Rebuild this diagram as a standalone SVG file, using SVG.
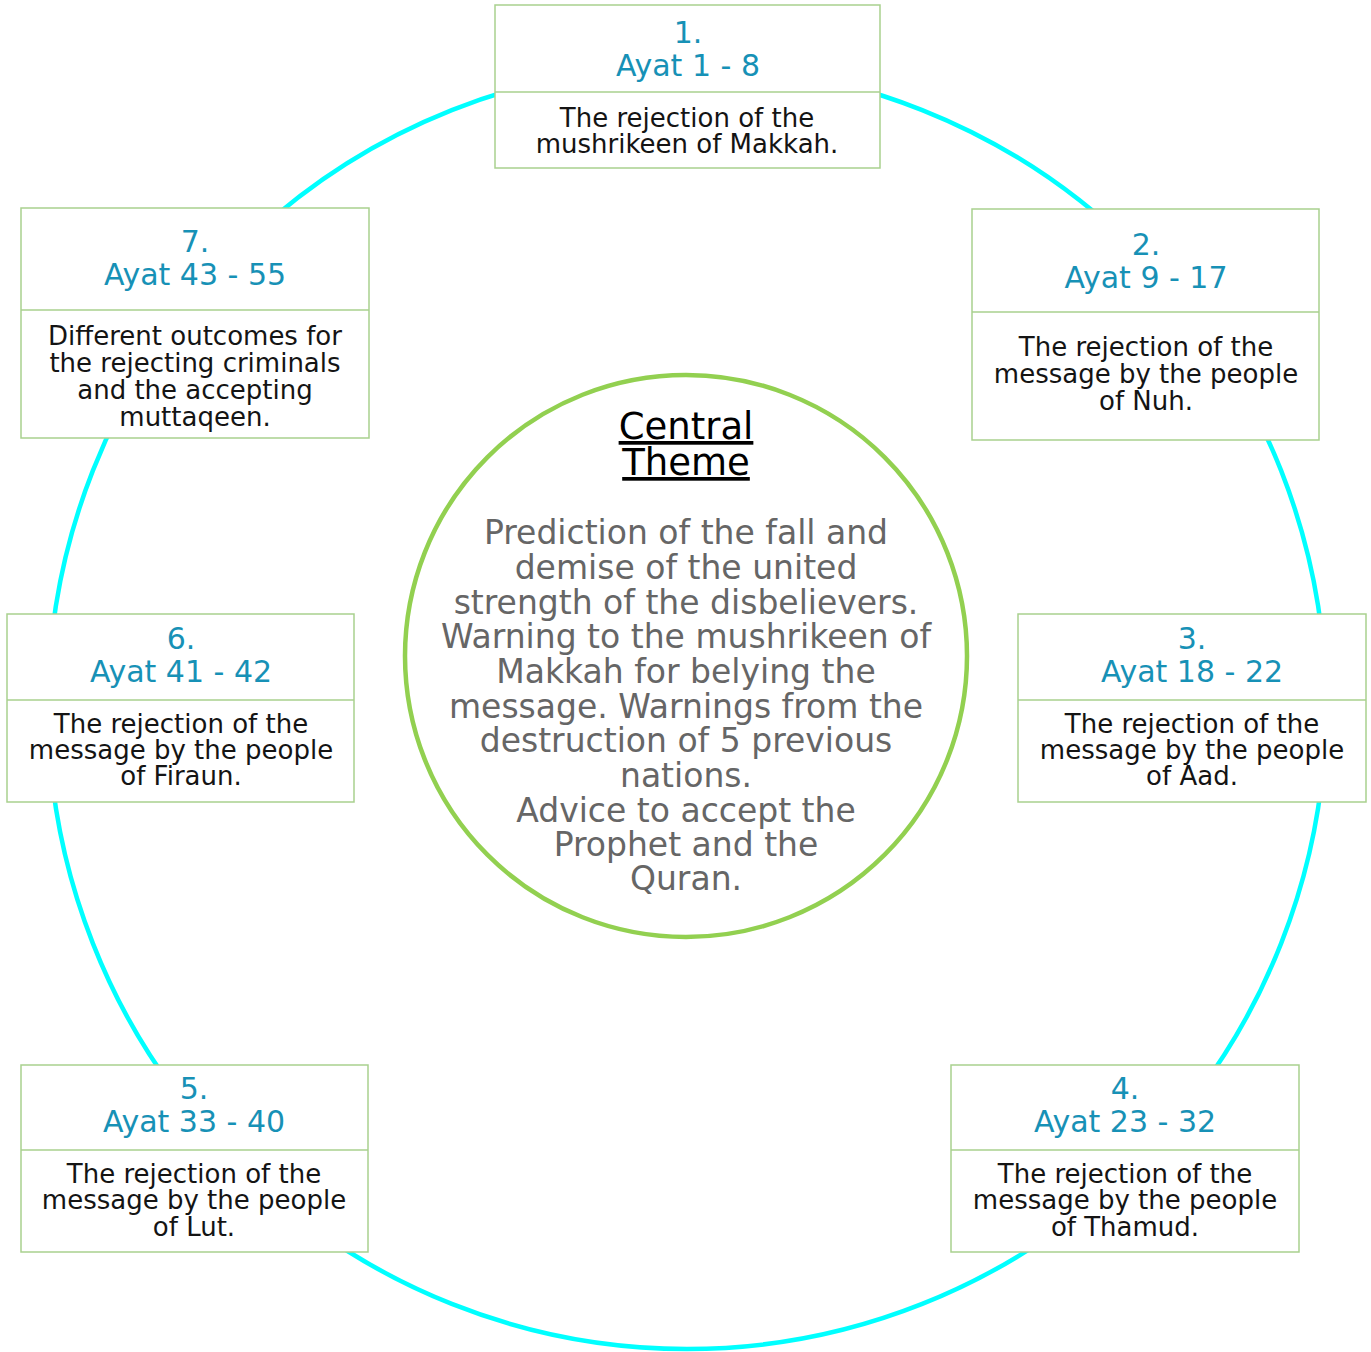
<svg xmlns="http://www.w3.org/2000/svg" width="1371" height="1352" viewBox="0 0 1371 1352">
  <style>
    .box { fill: #ffffff; stroke: #A9D18E; stroke-width: 1.5; }
    .div { stroke: #A9D18E; stroke-width: 1.5; }
    .ttl { font-family: "DejaVu Sans", "Liberation Sans", sans-serif; font-size: 30px; fill: #1791B6; text-anchor: middle; }
    .txt { font-family: "DejaVu Sans", "Liberation Sans", sans-serif; font-size: 26px; fill: #141414; text-anchor: middle; }
    .ctitle { font-family: "DejaVu Sans", "Liberation Sans", sans-serif; font-size: 37px; fill: #000000; text-anchor: middle; text-decoration: underline; }
    .cbody { font-family: "DejaVu Sans", "Liberation Sans", sans-serif; font-size: 33px; fill: #666666; text-anchor: middle; }
  </style>
  <rect width="1371" height="1352" fill="#ffffff"/>

  <g id="connectors">
    <ellipse cx="687" cy="707" rx="639" ry="642" fill="none" stroke="#00FFFF" stroke-width="4.5"/>
  </g>

  <g id="center">
    <circle cx="686" cy="656" r="281" fill="#ffffff" stroke="#92D050" stroke-width="4.5"/>
    <text class="ctitle" x="686" y="439">Central</text>
    <text class="ctitle" x="686" y="475">Theme</text>
    <text class="cbody" x="686" y="544">Prediction of the fall and</text>
    <text class="cbody" x="686" y="579">demise of the united</text>
    <text class="cbody" x="686" y="614">strength of the disbelievers.</text>
    <text class="cbody" x="686" y="648">Warning to the mushrikeen of</text>
    <text class="cbody" x="686" y="683">Makkah for belying the</text>
    <text class="cbody" x="686" y="718">message. Warnings from the</text>
    <text class="cbody" x="686" y="752">destruction of 5 previous</text>
    <text class="cbody" x="686" y="787">nations.</text>
    <text class="cbody" x="686" y="822">Advice to accept the</text>
    <text class="cbody" x="686" y="856">Prophet and the</text>
    <text class="cbody" x="686" y="890">Quran.</text>
  </g>

  <g id="node1">
    <rect class="box" x="495" y="5" width="385" height="163"/>
    <line class="div" x1="495" y1="92" x2="880" y2="92"/>
    <text class="ttl" x="688" y="43">1.</text>
    <text class="ttl" x="688" y="76">Ayat 1 - 8</text>
    <text class="txt" x="687" y="127">The rejection of the</text>
    <text class="txt" x="687" y="153">mushrikeen of Makkah.</text>
  </g>

  <g id="node2">
    <rect class="box" x="972" y="209" width="347" height="231"/>
    <line class="div" x1="972" y1="312" x2="1319" y2="312"/>
    <text class="ttl" x="1146" y="255">2.</text>
    <text class="ttl" x="1146" y="288">Ayat 9 - 17</text>
    <text class="txt" x="1146" y="356">The rejection of the</text>
    <text class="txt" x="1146" y="383">message by the people</text>
    <text class="txt" x="1146" y="410">of Nuh.</text>
  </g>

  <g id="node3">
    <rect class="box" x="1018" y="614" width="348" height="188"/>
    <line class="div" x1="1018" y1="700" x2="1366" y2="700"/>
    <text class="ttl" x="1192" y="649">3.</text>
    <text class="ttl" x="1192" y="682">Ayat 18 - 22</text>
    <text class="txt" x="1192" y="733">The rejection of the</text>
    <text class="txt" x="1192" y="759">message by the people</text>
    <text class="txt" x="1192" y="785">of Aad.</text>
  </g>

  <g id="node4">
    <rect class="box" x="951" y="1065" width="348" height="187"/>
    <line class="div" x1="951" y1="1150" x2="1299" y2="1150"/>
    <text class="ttl" x="1125" y="1099">4.</text>
    <text class="ttl" x="1125" y="1132">Ayat 23 - 32</text>
    <text class="txt" x="1125" y="1183">The rejection of the</text>
    <text class="txt" x="1125" y="1209">message by the people</text>
    <text class="txt" x="1125" y="1236">of Thamud.</text>
  </g>

  <g id="node5">
    <rect class="box" x="21" y="1065" width="347" height="187"/>
    <line class="div" x1="21" y1="1150" x2="368" y2="1150"/>
    <text class="ttl" x="194" y="1099">5.</text>
    <text class="ttl" x="194" y="1132">Ayat 33 - 40</text>
    <text class="txt" x="194" y="1183">The rejection of the</text>
    <text class="txt" x="194" y="1209">message by the people</text>
    <text class="txt" x="194" y="1236">of Lut.</text>
  </g>

  <g id="node6">
    <rect class="box" x="7" y="614" width="347" height="188"/>
    <line class="div" x1="7" y1="700" x2="354" y2="700"/>
    <text class="ttl" x="181" y="649">6.</text>
    <text class="ttl" x="181" y="682">Ayat 41 - 42</text>
    <text class="txt" x="181" y="733">The rejection of the</text>
    <text class="txt" x="181" y="759">message by the people</text>
    <text class="txt" x="181" y="785">of Firaun.</text>
  </g>

  <g id="node7">
    <rect class="box" x="21" y="208" width="348" height="230"/>
    <line class="div" x1="21" y1="310" x2="369" y2="310"/>
    <text class="ttl" x="195" y="252">7.</text>
    <text class="ttl" x="195" y="285">Ayat 43 - 55</text>
    <text class="txt" x="195" y="345">Different outcomes for</text>
    <text class="txt" x="195" y="372">the rejecting criminals</text>
    <text class="txt" x="195" y="399">and the accepting</text>
    <text class="txt" x="195" y="426">muttaqeen.</text>
  </g>
</svg>
